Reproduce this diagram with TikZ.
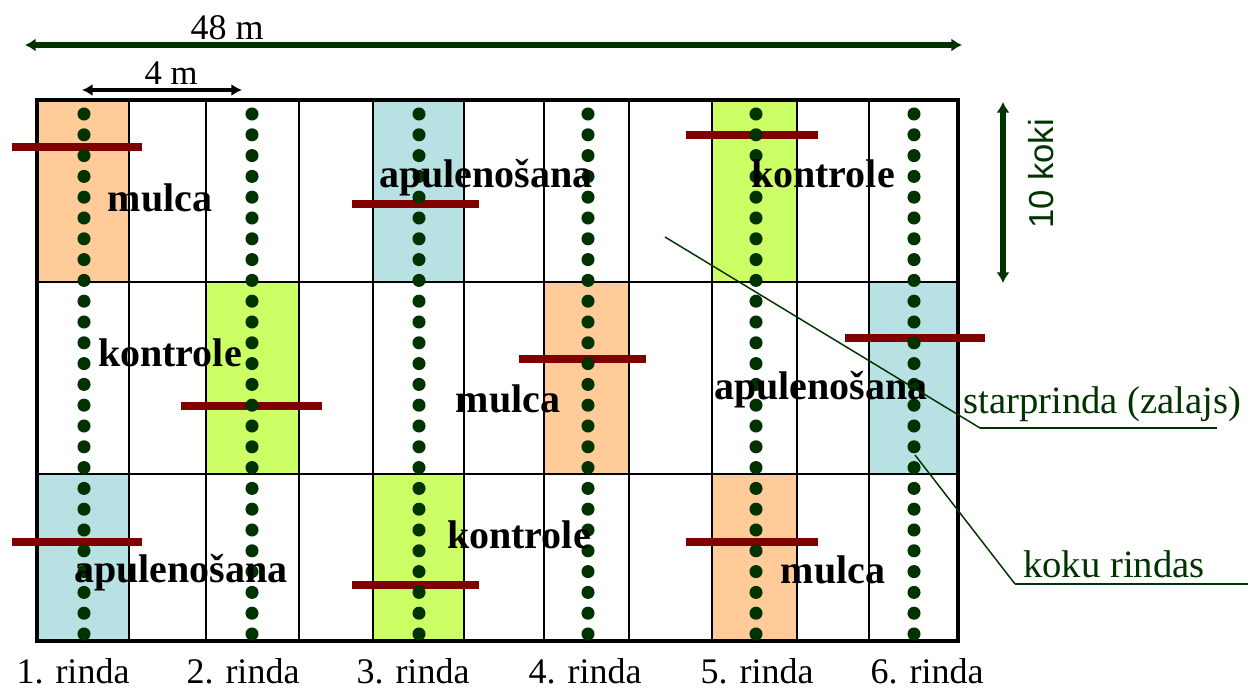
\documentclass[tikz,border=0pt]{standalone}
\usepackage{fontspec}
\setmainfont{Liberation Serif}
\newfontfamily\labelsans{Liberation Sans}
\usetikzlibrary{arrows.meta}

\definecolor{mulchfill}{HTML}{FFCC99}
\definecolor{coverfill}{HTML}{B8E1E3}
\definecolor{controlfill}{HTML}{CCFF66}
\definecolor{treegreen}{HTML}{003300}
\definecolor{barred}{HTML}{800000}

\begin{document}
\begin{tikzpicture}[x=0.75pt,y=-0.75pt,
  plotlabel/.style={font=\fontsize{30}{36}\selectfont\bfseries, anchor=base, inner sep=0pt},
  rowlabel/.style={font=\fontsize{27}{32}\selectfont, anchor=base, inner sep=0pt},
  notelabel/.style={font=\fontsize{29}{34}\selectfont, text=treegreen, anchor=base west, inner sep=0pt},
  gridline/.style={line width=1.6pt},
  frameline/.style={line width=3.4pt},
  mulchbar/.style={barred, line width=6pt},
  leader/.style={treegreen, line width=1.1pt},
  underline/.style={treegreen, line width=1.5pt},
  treedot/.style={treegreen},
]
\useasboundingbox (0,0) rectangle (1248,691);
\fill[white] (0,0) rectangle (1248,691);

% coloured plots: first block
\fill[mulchfill]   (37,100) rectangle (129,282);
\fill[coverfill]   (373,100) rectangle (464,282);
\fill[controlfill] (712,100) rectangle (797,282);
% second block
\fill[controlfill] (206,282) rectangle (299,474);
\fill[mulchfill]   (544,282) rectangle (629,474);
\fill[coverfill]   (869,282) rectangle (958,474);
% third block
\fill[coverfill]   (37,474) rectangle (129,641);
\fill[controlfill] (373,474) rectangle (464,641);
\fill[mulchfill]   (712,474) rectangle (797,641);

% grid
\foreach \gx in {129,206,299,373,464,544,629,712,797,869}
  \draw[gridline] (\gx,100) -- (\gx,641);
\foreach \gy in {282,474}
  \draw[gridline] (37,\gy) -- (958,\gy);
\draw[frameline] (37,100) rectangle (958,641);

% mulch strips across the rows
\draw[mulchbar] (12,147) -- (142,147);
\draw[mulchbar] (352,204) -- (479,204);
\draw[mulchbar] (686,135) -- (818,135);
\draw[mulchbar] (181,406) -- (322,406);
\draw[mulchbar] (519,359) -- (646,359);
\draw[mulchbar] (845,338) -- (985,338);
\draw[mulchbar] (12,542) -- (142,542);
\draw[mulchbar] (352,585) -- (479,585);
\draw[mulchbar] (686,542) -- (818,542);

% tree rows
\foreach \cx in {84,252,419,588,756,914}
  \foreach \k in {0,...,25}
    \fill[treedot] (\cx,{114+\k*20.8}) circle[radius=4.9pt];

% plot labels
\node[plotlabel] (p11) at (160,212) {mulca};
\node[plotlabel] (p12) at (486,188) {apulenošana};
\node[plotlabel] (p13) at (823,188) {kontrole};
\node[plotlabel] (p21) at (170,366) {kontrole};
\node[plotlabel] (p22) at (508,412) {mulca};
\node[plotlabel] (p23) at (821,399) {apulenošana};
\node[plotlabel] (p31) at (181,582) {apulenošana};
\node[plotlabel] (p32) at (519,548) {kontrole};
\node[plotlabel] (p33) at (833,583) {mulca};

% row names
\node[rowlabel] (r1) at (73,683) {1. rinda};
\node[rowlabel] (r2) at (243,683) {2. rinda};
\node[rowlabel] (r3) at (413,683) {3. rinda};
\node[rowlabel] (r4) at (585,683) {4. rinda};
\node[rowlabel] (r5) at (757,683) {5. rinda};
\node[rowlabel] (r6) at (927,683) {6. rinda};

% dimensions
\coordinate (fullwest) at (25,45);
\coordinate (fulleast) at (962,45);
\draw[treegreen, line width=3.8pt, {Latex[length=8pt,width=10pt]}-{Latex[length=8pt,width=10pt]}] (fullwest) -- (fulleast);
\node[rowlabel] (fulllen) at (227,40) {48 m};

\coordinate (stripwest) at (82,90);
\coordinate (stripeast) at (242,90);
\draw[black, line width=2.4pt, {Latex[length=8pt,width=9pt]}-{Latex[length=8pt,width=9pt]}] (stripwest) -- (stripeast);
\node[rowlabel, font=\fontsize{26}{31}\selectfont] (striplen) at (171,85) {4 m};

\coordinate (blocktop) at (1003,102);
\coordinate (blockbot) at (1003,283);
\draw[treegreen, line width=3.8pt, {Latex[length=8pt,width=10pt]}-{Latex[length=8pt,width=10pt]}] (blocktop) -- (blockbot);
\node[font=\labelsans\fontsize{26}{31}\selectfont, text=treegreen, rotate=90, inner sep=0pt] (treecount) at (1041,174) {10 koki};

% callouts
\coordinate (gapfoot) at (665,237);
\coordinate (gapknee) at (980,428);
\coordinate (gapend) at (1217,428);
\draw[leader] (gapfoot) -- (gapknee);
\draw[underline] (gapknee) -- (gapend);
\node[notelabel] (gaplabel) at (963,413) {starprinda (zalajs)};

\coordinate (rowfoot) at (915,455);
\coordinate (rowknee) at (1015,584);
\coordinate (rowend) at (1248,584);
\draw[leader] (rowfoot) -- (rowknee);
\draw[underline] (rowknee) -- (rowend);
\node[notelabel] (rowslabel) at (1023,577) {koku rindas};
\end{tikzpicture}
\end{document}
